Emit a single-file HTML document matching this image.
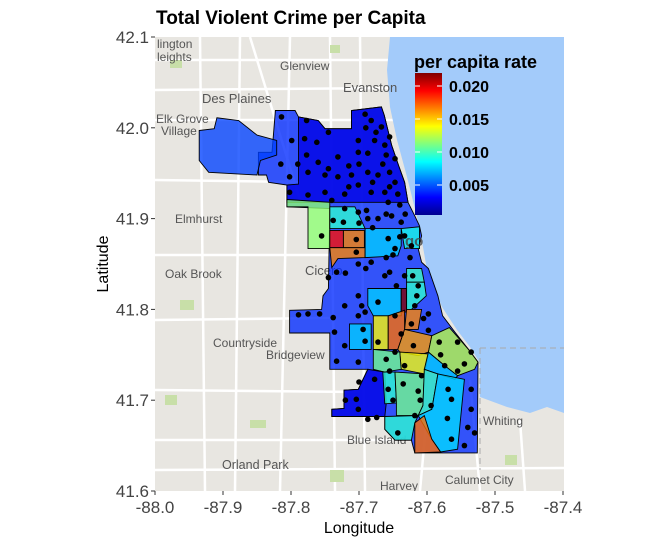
<!DOCTYPE html>
<html><head><meta charset="utf-8"><style>
body{margin:0;background:#fff;}
svg{display:block;font-family:"Liberation Sans",sans-serif;}
.ml{fill:#555;font-size:12px;}
</style></head><body>
<svg id="chart" width="657" height="544" viewBox="0 0 657 544" xmlns="http://www.w3.org/2000/svg">
<defs>
<clipPath id="plotclip"><rect x="155" y="37" width="409" height="454"/></clipPath>
<linearGradient id="jet" x1="0" y1="1" x2="0" y2="0">
<stop offset="0" stop-color="#00008f"/><stop offset="0.125" stop-color="#0000ff"/><stop offset="0.375" stop-color="#00ffff"/><stop offset="0.625" stop-color="#ffff00"/><stop offset="0.875" stop-color="#ff0000"/><stop offset="1" stop-color="#800000"/>
</linearGradient>
</defs>
<text x="156" y="24" font-size="19" font-weight="bold" fill="#000">Total Violent Crime per Capita</text>
<g clip-path="url(#plotclip)">
<rect x="155" y="37" width="409" height="454" fill="#e8e6e1"/>
<g stroke="#fff" stroke-width="2.5" fill="none">
<path d="M155 120 L564 120"/><path d="M155 180 L300 182"/><path d="M155 255 L330 255"/><path d="M155 320 L330 318"/><path d="M155 390 L360 392"/><path d="M155 440 L420 440"/><path d="M155 470 L564 468"/>
<path d="M200 37 L205 491"/><path d="M240 37 L235 491"/><path d="M290 37 L280 491"/><path d="M330 37 L335 491"/><path d="M360 37 L365 491"/><path d="M430 380 L420 491"/><path d="M470 380 L480 491"/><path d="M520 420 L525 491"/>
<path d="M155 60 L390 60"/><path d="M155 90 L390 88"/><path d="M250 37 L300 200"/>
</g>
<g fill="#c8dfa8">
<rect x="170" y="60" width="12" height="8"/><rect x="330" y="45" width="10" height="8"/><rect x="180" y="300" width="14" height="10"/><rect x="165" y="395" width="12" height="10"/><rect x="250" y="420" width="16" height="8"/><rect x="330" y="470" width="14" height="12"/><rect x="505" y="455" width="12" height="10"/>
</g>
<path d="M390 37 L564 37 L564 413 L547 407 L530 413 L507 407 L480 397 L480 383 L480 363 L470 347 L457 330 L442 307 L427 270 L423 247 L417 217 L407 177 L397 140 L390 107 L387 70 Z" fill="#a3cbfa"/>
<path d="M480 348 L564 348 M480 348 L480 470" stroke="#aaa" stroke-dasharray="6,4" fill="none"/>
<g class="ml">
<text x="157" y="48">lington</text><text x="157" y="61">leights</text>
<text x="280" y="70">Glenview</text><text x="343" y="92" font-size="13">Evanston</text>
<text x="202" y="103" font-size="13">Des Plaines</text>
<text x="156" y="123">Elk Grove</text><text x="161" y="135">Village</text>
<text x="175" y="223">Elmhurst</text><text x="165" y="278">Oak Brook</text>
<text x="305" y="275" font-size="13">Cicero</text><text x="213" y="347">Countryside</text>
<text x="266" y="359">Bridgeview</text><text x="222" y="469" font-size="12.5">Orland Park</text>
<text x="347" y="444">Blue Island</text><text x="380" y="490">Harvey</text>
<text x="445" y="484">Calumet City</text><text x="483" y="425">Whiting</text>
</g>
<g id="areas"></g>
<text x="405" y="246" font-size="15" font-weight="bold" fill="#444" opacity="0.8">go</text>
<g id="dots"></g>
</g>
<g id="axes"></g>
<text x="359" y="533" font-size="16" text-anchor="middle" fill="#000">Longitude</text>
<text transform="translate(108,264) rotate(-90)" font-size="16" text-anchor="middle" fill="#000">Latitude</text>
<g>
<text x="414" y="68" font-size="18" font-weight="bold" fill="#000">per capita rate</text>
<rect x="415" y="73" width="27" height="142" fill="url(#jet)"/>
<g id="legticks"></g>
</g>
</svg>
<script>
const xTicks=[-88.0,-87.9,-87.8,-87.7,-87.6,-87.5,-87.4];
const yTicks=[41.6,41.7,41.8,41.9,42.0,42.1];
const legendTicks=[0.005,0.010,0.015,0.020];
const colorMin=0.00045, colorMax=0.022;
const areaNames=["city-base","ohare","far-north","austin","humboldt-park","west-garfield","east-garfield","north-lawndale","near-west","loop","near-south","bridgeport","fuller-park","grand-boulevard","washington-park","new-city","englewood","woodlawn","west-lawn","south-shore","greater-grand-crossing","west-englewood","avalon-park","beverly","roseland","chatham","south-chicago","pullman","west-pullman","riverdale"];
const areaValues=[0.0040,0.0045,0.0025,0.0115,0.0095,0.0190,0.0165,0.0165,0.0075,0.0090,0.0098,0.0075,0.0220,0.0095,0.0165,0.0140,0.0170,0.0160,0.0075,0.0125,0.0138,0.0110,0.0075,0.0025,0.0095,0.0110,0.0098,0.0078,0.0095,0.0170];
const areaShapes=[
[[-87.823,42.019],[-87.794,42.019],[-87.789,42.012],[-87.760,42.008],[-87.750,41.999],[-87.711,41.999],[-87.711,42.019],[-87.667,42.023],[-87.663,42.014],[-87.652,41.981],[-87.642,41.959],[-87.633,41.940],[-87.628,41.918],[-87.618,41.903],[-87.611,41.892],[-87.608,41.881],[-87.613,41.867],[-87.608,41.852],[-87.598,41.845],[-87.584,41.815],[-87.577,41.793],[-87.559,41.775],[-87.539,41.756],[-87.525,41.742],[-87.526,41.642],[-87.618,41.642],[-87.623,41.656],[-87.647,41.656],[-87.662,41.668],[-87.662,41.682],[-87.740,41.682],[-87.740,41.690],[-87.722,41.691],[-87.722,41.711],[-87.701,41.712],[-87.687,41.734],[-87.743,41.734],[-87.743,41.774],[-87.802,41.774],[-87.802,41.799],[-87.755,41.800],[-87.753,41.815],[-87.745,41.823],[-87.743,41.911],[-87.806,41.913],[-87.806,41.937],[-87.833,41.940],[-87.836,41.948],[-87.848,41.948],[-87.848,41.973],[-87.828,41.973]],
[[-87.935,41.997],[-87.913,41.999],[-87.909,42.011],[-87.877,42.008],[-87.850,41.992],[-87.821,41.986],[-87.821,41.970],[-87.845,41.964],[-87.850,41.948],[-87.921,41.951],[-87.935,41.964]],
[[-87.789,42.012],[-87.760,42.008],[-87.750,41.999],[-87.711,41.999],[-87.711,42.019],[-87.667,42.023],[-87.663,42.014],[-87.652,41.981],[-87.642,41.959],[-87.633,41.940],[-87.628,41.918],[-87.806,41.918],[-87.806,41.937],[-87.789,41.938]],
[[-87.806,41.921],[-87.743,41.918],[-87.743,41.867],[-87.775,41.867],[-87.775,41.913],[-87.806,41.913]],
[[-87.743,41.913],[-87.706,41.913],[-87.691,41.889],[-87.743,41.889]],
[[-87.743,41.887],[-87.723,41.887],[-87.723,41.868],[-87.743,41.868]],
[[-87.723,41.887],[-87.692,41.887],[-87.692,41.868],[-87.723,41.868]],
[[-87.743,41.868],[-87.691,41.868],[-87.691,41.857],[-87.731,41.856],[-87.740,41.846]],
[[-87.691,41.889],[-87.638,41.889],[-87.638,41.870],[-87.643,41.859],[-87.691,41.857]],
[[-87.638,41.889],[-87.611,41.891],[-87.611,41.867],[-87.633,41.867]],
[[-87.630,41.845],[-87.608,41.845],[-87.604,41.830],[-87.630,41.830]],
[[-87.687,41.823],[-87.638,41.823],[-87.638,41.793],[-87.679,41.793],[-87.687,41.804]],
[[-87.638,41.823],[-87.630,41.823],[-87.630,41.797],[-87.638,41.797]],
[[-87.630,41.830],[-87.604,41.830],[-87.601,41.815],[-87.623,41.800],[-87.630,41.800]],
[[-87.630,41.800],[-87.608,41.800],[-87.613,41.778],[-87.633,41.778]],
[[-87.679,41.793],[-87.657,41.793],[-87.657,41.756],[-87.679,41.756]],
[[-87.657,41.793],[-87.633,41.799],[-87.633,41.778],[-87.643,41.756],[-87.657,41.756]],
[[-87.633,41.778],[-87.593,41.771],[-87.598,41.753],[-87.613,41.749],[-87.640,41.753],[-87.643,41.756]],
[[-87.714,41.784],[-87.682,41.784],[-87.682,41.756],[-87.714,41.756]],
[[-87.593,41.771],[-87.567,41.780],[-87.539,41.756],[-87.525,41.742],[-87.530,41.734],[-87.555,41.727],[-87.574,41.738],[-87.598,41.753]],
[[-87.640,41.753],[-87.598,41.751],[-87.604,41.729],[-87.638,41.734]],
[[-87.679,41.756],[-87.640,41.753],[-87.638,41.734],[-87.662,41.731],[-87.679,41.734]],
[[-87.598,41.753],[-87.574,41.738],[-87.555,41.727],[-87.559,41.723],[-87.593,41.731],[-87.604,41.734]],
[[-87.722,41.711],[-87.701,41.712],[-87.687,41.734],[-87.662,41.731],[-87.660,41.696],[-87.662,41.682],[-87.740,41.682],[-87.740,41.690],[-87.722,41.691]],
[[-87.665,41.731],[-87.647,41.731],[-87.645,41.697],[-87.662,41.696]],
[[-87.647,41.731],[-87.604,41.729],[-87.606,41.694],[-87.613,41.683],[-87.645,41.683],[-87.645,41.697]],
[[-87.604,41.734],[-87.584,41.729],[-87.593,41.690],[-87.613,41.683],[-87.606,41.694]],
[[-87.584,41.729],[-87.545,41.723],[-87.555,41.646],[-87.580,41.643],[-87.593,41.657],[-87.613,41.683],[-87.593,41.690]],
[[-87.662,41.682],[-87.613,41.683],[-87.618,41.675],[-87.623,41.656],[-87.647,41.656],[-87.662,41.668]],
[[-87.618,41.675],[-87.604,41.683],[-87.593,41.657],[-87.580,41.643],[-87.618,41.642]]
];
const pointLon=[-87.814,-87.777,-87.745,-87.691,-87.682,-87.667,-87.799,-87.780,-87.762,-87.701,-87.677,-87.662,-87.777,-87.760,-87.731,-87.701,-87.687,-87.660,-87.647,-87.802,-87.775,-87.750,-87.731,-87.711,-87.687,-87.672,-87.655,-87.647,-87.802,-87.775,-87.750,-87.721,-87.701,-87.682,-87.662,-87.643,-87.657,-87.721,-87.738,-87.723,-87.701,-87.689,-87.687,-87.672,-87.652,-87.638,-87.657,-87.647,-87.633,-87.623,-87.625,-87.755,-87.704,-87.704,-87.733,-87.701,-87.682,-87.660,-87.655,-87.645,-87.662,-87.633,-87.621,-87.613,-87.701,-87.696,-87.672,-87.618,-87.598,-87.789,-87.775,-87.758,-87.738,-87.721,-87.701,-87.691,-87.647,-87.623,-87.598,-87.736,-87.721,-87.694,-87.691,-87.672,-87.638,-87.647,-87.633,-87.608,-87.582,-87.555,-87.535,-87.574,-87.555,-87.733,-87.701,-87.677,-87.655,-87.657,-87.635,-87.613,-87.569,-87.535,-87.704,-87.701,-87.687,-87.674,-87.643,-87.618,-87.564,-87.535,-87.564,-87.545,-87.594,-87.530,
-87.690,-87.675,-87.655,-87.700,-87.715,-87.745,-87.790,-87.815,-87.665,-87.680,-87.655,-87.640,-87.660,-87.715,-87.740,-87.632,-87.700,-87.680,-87.640,-87.650,-87.690,-87.720,-87.745,-87.615,-87.605,-87.580,-87.545,-87.620,-87.660,-87.700,-87.720,-87.540,-87.610,-87.650,-87.570];
const pointLat=[42.012,42.008,41.995,42.015,42.008,42.001,41.986,41.988,41.984,41.986,41.986,41.981,41.970,41.962,41.968,41.973,41.972,41.970,41.966,41.946,41.951,41.948,41.946,41.948,41.951,41.948,41.951,41.940,41.929,41.926,41.929,41.927,41.937,41.929,41.929,41.927,41.918,41.911,41.898,41.896,41.907,41.909,41.900,41.900,41.903,41.896,41.878,41.867,41.881,41.870,41.857,41.881,41.877,41.863,41.841,41.850,41.852,41.857,41.841,41.826,41.837,41.837,41.837,41.826,41.815,41.804,41.808,41.804,41.795,41.794,41.795,41.795,41.791,41.804,41.793,41.797,41.793,41.784,41.777,41.775,41.760,41.778,41.765,41.764,41.773,41.753,41.738,41.727,41.764,41.764,41.753,41.738,41.732,41.743,41.742,41.723,41.732,41.712,41.718,41.710,41.712,41.712,41.701,41.690,41.679,41.681,41.664,41.683,41.701,41.690,41.657,41.650,41.694,41.664,
42.000,41.995,41.990,41.960,41.958,41.955,41.960,41.960,41.960,41.940,41.935,41.915,41.905,41.935,41.920,41.905,41.895,41.890,41.880,41.860,41.845,41.840,41.835,41.815,41.790,41.750,41.740,41.760,41.745,41.720,41.700,41.670,41.700,41.700,41.680];

const NS="http://www.w3.org/2000/svg";
function xScale(lon){return 155+(lon+88.0)/0.1*68.0;}
function yScale(lat){return 491-(lat-41.6)/0.1*90.8;}
function legY(v){return 86+(0.020-v)*6600;}
function jet(v){
  let t=(v-colorMin)/(colorMax-colorMin);t=Math.max(0,Math.min(1,t));
  const stops=[[0,[0,0,143]],[0.125,[0,0,255]],[0.375,[0,255,255]],[0.625,[255,255,0]],[0.875,[255,0,0]],[1,[128,0,0]]];
  for(let i=1;i<stops.length;i++){if(t<=stops[i][0]){const a=stops[i-1],b=stops[i];const f=(t-a[0])/(b[0]-a[0]);
    return "rgb("+a[1].map((c,k)=>Math.round(c+(b[1][k]-c)*f)).join(",")+")";}}
  return "rgb(128,0,0)";
}
const areasG=document.getElementById('areas');
areaShapes.forEach((poly,i)=>{
  const p=document.createElementNS(NS,'polygon');
  p.setAttribute('points',poly.map(c=>xScale(c[0]).toFixed(1)+","+yScale(c[1]).toFixed(1)).join(" "));
  p.setAttribute('fill',jet(areaValues[i]));
  p.setAttribute('fill-opacity','0.78');
  p.setAttribute('stroke','#000');
  p.setAttribute('stroke-width','0.9');
  
  
  areasG.appendChild(p);
});
const dotsG=document.getElementById('dots');
pointLon.forEach((lon,i)=>{
  const c=document.createElementNS(NS,'circle');
  c.setAttribute('cx',xScale(lon).toFixed(1));
  c.setAttribute('cy',yScale(pointLat[i]).toFixed(1));
  c.setAttribute('r','2.8');
  c.setAttribute('fill','#000');
  
  
  dotsG.appendChild(c);
});
const axG=document.getElementById('axes');
xTicks.forEach(t=>{
  const x=xScale(t);
  const l=document.createElementNS(NS,'line');
  l.setAttribute('x1',x);l.setAttribute('x2',x);l.setAttribute('y1',491);l.setAttribute('y2',495);
  l.setAttribute('stroke','#333');
  
  
  axG.appendChild(l);
  const tx=document.createElementNS(NS,'text');
  tx.setAttribute('x',x);tx.setAttribute('y',513);tx.setAttribute('text-anchor','middle');
  tx.setAttribute('font-size','17');tx.setAttribute('fill','#444');
  tx.textContent=t.toFixed(1);
  
  
  axG.appendChild(tx);
});
yTicks.forEach(t=>{
  const y=yScale(t);
  const l=document.createElementNS(NS,'line');
  l.setAttribute('x1',151);l.setAttribute('x2',155);l.setAttribute('y1',y);l.setAttribute('y2',y);
  l.setAttribute('stroke','#333');
  
  
  axG.appendChild(l);
  const tx=document.createElementNS(NS,'text');
  tx.setAttribute('x',149);tx.setAttribute('y',y+6);tx.setAttribute('text-anchor','end');
  tx.setAttribute('font-size','17');tx.setAttribute('fill','#444');
  tx.textContent=t.toFixed(1);
  
  
  axG.appendChild(tx);
});
const lg=document.getElementById('legticks');
legendTicks.forEach(v=>{
  const y=legY(v);
  [[415,420],[437,442]].forEach(s=>{
    const l=document.createElementNS(NS,'line');
    l.setAttribute('x1',s[0]);l.setAttribute('x2',s[1]);l.setAttribute('y1',y);l.setAttribute('y2',y);
    l.setAttribute('stroke','#fff');
    
    
    lg.appendChild(l);
  });
  const tx=document.createElementNS(NS,'text');
  tx.setAttribute('x',449);tx.setAttribute('y',y+6);
  tx.setAttribute('font-size','16');tx.setAttribute('font-weight','bold');tx.setAttribute('fill','#000');
  tx.textContent=v.toFixed(3);
  
  
  lg.appendChild(tx);
});
</script>
</body></html>
